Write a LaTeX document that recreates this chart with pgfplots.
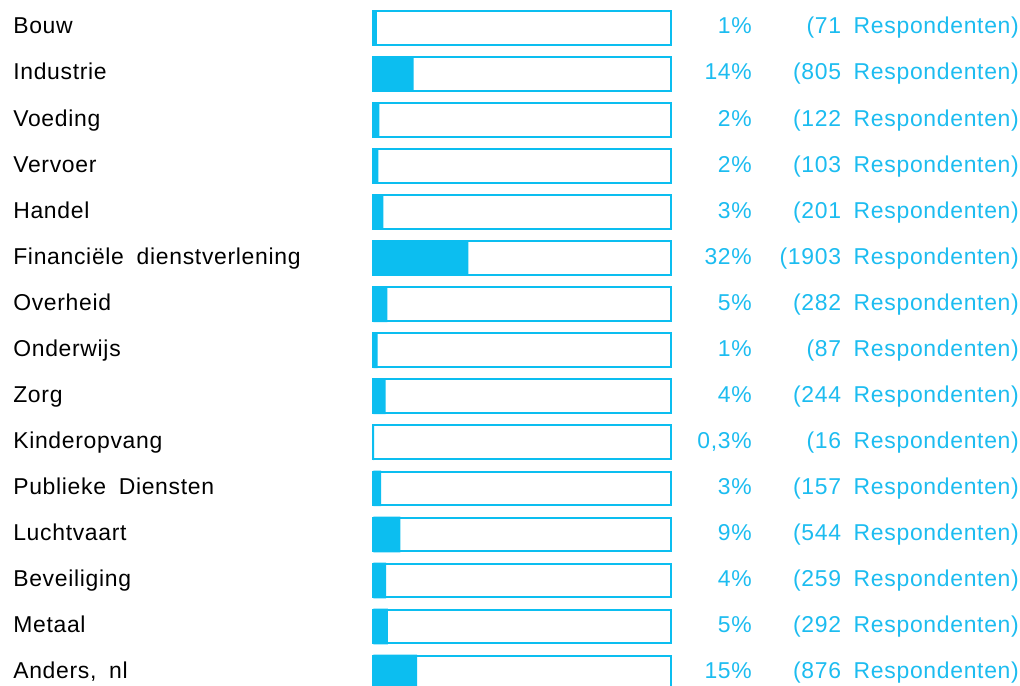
\documentclass[border=0pt]{standalone}
\usepackage{pgfplots}
\pgfplotsset{compat=1.18}
\usepackage{pgfplotstable}
\usepackage{fontspec}
\setmainfont{Liberation Sans}[LetterSpace=3, WordSpace=1.8]
\definecolor{barblue}{RGB}{12,190,240}
\definecolor{txtblue}{RGB}{28,188,240}

\pgfplotstableread[col sep=semicolon]{
idx;name;val;pct;resp
0;Bouw;1.19;1;71
1;Industrie;13.50;14;805
2;Voeding;2.05;2;122
3;Vervoer;1.73;2;103
4;Handel;3.37;3;201
5;Financiële dienstverlening;31.92;32;1903
6;Overheid;4.73;5;282
7;Onderwijs;1.46;1;87
8;Zorg;4.09;4;244
9;Kinderopvang;0.27;0,3;16
10;Publieke Diensten;2.63;3;157
11;Luchtvaart;9.12;9;544
12;Beveiliging;4.34;4;259
13;Metaal;4.90;5;292
14;Anders, nl;14.69;15;876
}\datatable

\begin{document}
\begin{tikzpicture}
\begin{axis}[
  scale only axis,
  width=765pt, height=513.75pt,
  xmin=-125.27, xmax=217.01,
  ymin=-0.606, ymax=14.27,
  y dir=reverse,
  hide axis,
  clip=true,
  every node near coord/.append style={font=\fontsize{17.2pt}{20pt}\selectfont, inner sep=0pt},
]
% background boxes
\addplot[xbar, bar width=0.732, bar shift=0pt, fill=white, draw=barblue, line width=1.5pt]
  table[x expr=100, y=idx] {\datatable};
% filled bars
\addplot[xbar, bar width=0.775, bar shift=0pt, fill=barblue, draw=none]
  table[x=val, y=idx] {\datatable};
% category labels
\addplot[draw=none, mark=none, nodes near coords, point meta=explicit symbolic,
  nodes near coords style={anchor=base west, yshift=-4.5pt, text=black}]
  table[x expr=-120.9, y=idx, meta=name] {\datatable};
% percentages
\addplot[draw=none, mark=none, nodes near coords={\pgfplotspointmeta\%}, point meta=explicit symbolic,
  nodes near coords style={anchor=base east, yshift=-4.5pt, text=txtblue}]
  table[x expr=127.1, y=idx, meta=pct] {\datatable};
% respondents
\addplot[draw=none, mark=none, nodes near coords={(\pgfplotspointmeta\ Respondenten)}, point meta=explicit symbolic,
  nodes near coords style={anchor=base east, yshift=-4.5pt, text=txtblue}]
  table[x expr=216.7, y=idx, meta=resp] {\datatable};
\end{axis}
\pgfresetboundingbox
\useasboundingbox (current axis.south west) rectangle (current axis.north east);
\end{tikzpicture}
\end{document}
